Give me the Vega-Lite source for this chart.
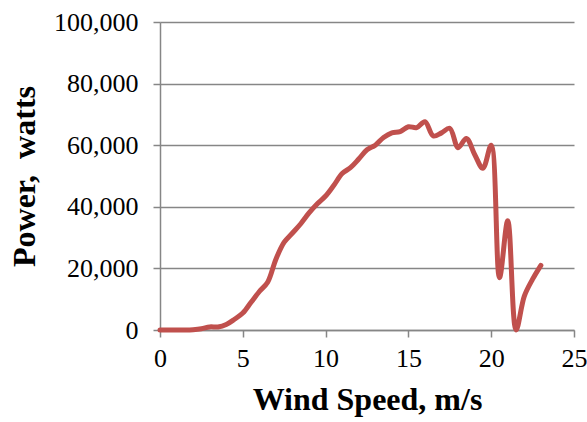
{
  "$schema": "https://vega.github.io/schema/vega-lite/v6.json",
  "width": 414,
  "height": 308,
  "autosize": "none",
  "padding": {"left": 160, "top": 22, "right": 13, "bottom": 92},
  "background": "white",
  "config": {"view": {"stroke": null}, "font": "Liberation Serif, Times New Roman, serif", "axis": {"labelFont": "Liberation Serif, Times New Roman, serif", "titleFont": "Liberation Serif, Times New Roman, serif"}},
  "data": {"values": [
    {"wind": 0, "power": 0},
    {"wind": 0.5, "power": 0},
    {"wind": 1, "power": 0},
    {"wind": 1.5, "power": 0},
    {"wind": 2, "power": 100},
    {"wind": 2.5, "power": 400},
    {"wind": 3, "power": 1000},
    {"wind": 3.5, "power": 1000},
    {"wind": 4, "power": 1800},
    {"wind": 4.5, "power": 3500},
    {"wind": 5, "power": 5500},
    {"wind": 5.5, "power": 9000},
    {"wind": 6, "power": 12500},
    {"wind": 6.5, "power": 15500},
    {"wind": 7, "power": 23000},
    {"wind": 7.5, "power": 28500},
    {"wind": 8, "power": 31500},
    {"wind": 8.5, "power": 34500},
    {"wind": 9, "power": 38000},
    {"wind": 9.5, "power": 41000},
    {"wind": 10, "power": 43500},
    {"wind": 10.5, "power": 47000},
    {"wind": 11, "power": 50800},
    {"wind": 11.5, "power": 52700},
    {"wind": 12, "power": 55500},
    {"wind": 12.5, "power": 58500},
    {"wind": 13, "power": 60000},
    {"wind": 13.5, "power": 62500},
    {"wind": 14, "power": 64000},
    {"wind": 14.5, "power": 64400},
    {"wind": 15, "power": 66000},
    {"wind": 15.5, "power": 65700},
    {"wind": 16, "power": 67600},
    {"wind": 16.5, "power": 63000},
    {"wind": 17, "power": 64000},
    {"wind": 17.5, "power": 65500},
    {"wind": 18, "power": 59200},
    {"wind": 18.5, "power": 62200},
    {"wind": 19, "power": 57000},
    {"wind": 19.5, "power": 52500},
    {"wind": 20, "power": 60000},
    {"wind": 20.5, "power": 17000},
    {"wind": 21, "power": 35500},
    {"wind": 21.5, "power": 0},
    {"wind": 22, "power": 11000},
    {"wind": 22.5, "power": 16500},
    {"wind": 23, "power": 21000}
  ]},
  "mark": {"type": "line", "color": "#C0504D", "strokeWidth": 5, "interpolate": "catmull-rom", "strokeCap": "round", "strokeJoin": "round"},
  "encoding": {
    "x": {
      "field": "wind", "type": "quantitative",
      "scale": {"domain": [0, 25], "nice": false},
      "axis": {
        "title": "Wind Speed, m/s", "values": [0, 5, 10, 15, 20, 25], "grid": false,
        "domainColor": "#868686", "domainWidth": 1.5, "tickColor": "#868686", "tickWidth": 1.5, "tickSize": 7,
        "labelFontSize": 26, "labelColor": "black", "labelPadding": 8,
        "labelFlush": false,
        "titleFontSize": 32, "titleFontWeight": "bold", "titleColor": "black", "titlePadding": 13
      }
    },
    "y": {
      "field": "power", "type": "quantitative",
      "scale": {"domain": [0, 100000], "nice": false},
      "axis": {
        "title": "Power,\u00a0 watts", "values": [0, 20000, 40000, 60000, 80000, 100000], "format": ",.0f",
        "grid": true, "gridColor": "#868686", "gridWidth": 1.5,
        "domainColor": "#868686", "domainWidth": 1.5, "tickColor": "#868686", "tickWidth": 1.5, "tickSize": 7,
        "labelFontSize": 26, "labelColor": "black", "labelPadding": 15,
        "labelFlush": false,
        "titleFontSize": 32, "titleFontWeight": "bold", "titleColor": "black", "titlePadding": 12
      }
    }
  }
}
